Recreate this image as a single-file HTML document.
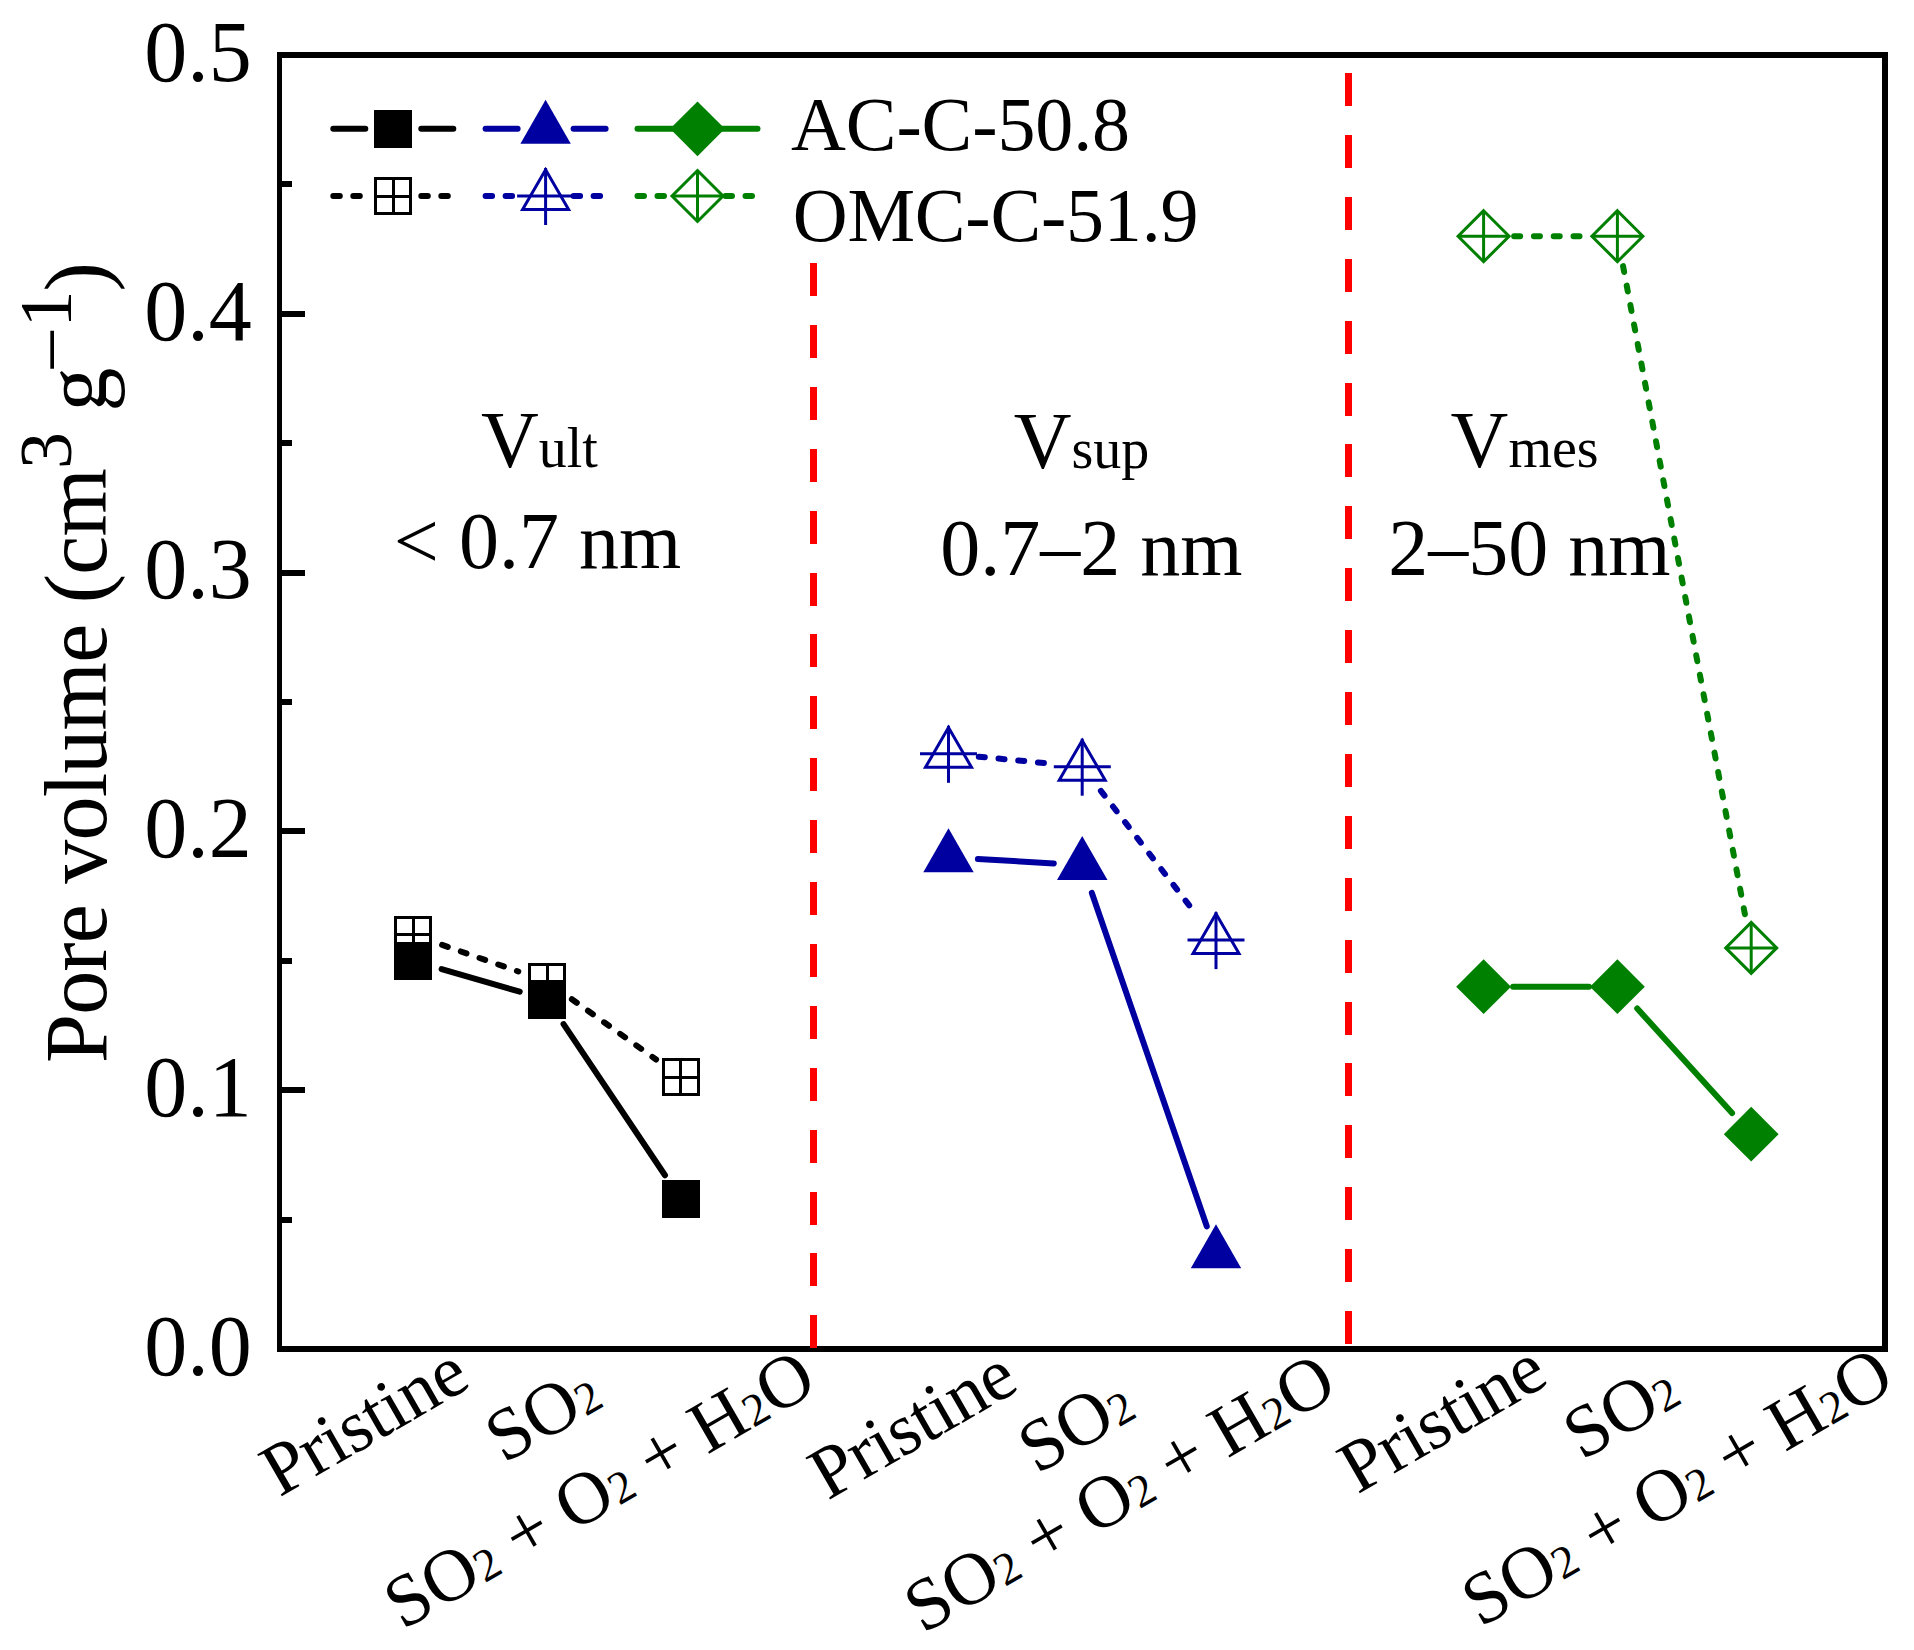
<!DOCTYPE html>
<html lang="en"><head><meta charset="utf-8"><title>Pore volume</title>
<style>html,body{margin:0;padding:0;background:#fff;}svg{display:block;}text{font-family:"Liberation Serif",serif;fill:#000;}</style>
</head><body>
<svg width="1914" height="1650" viewBox="0 0 1914 1650">
<rect x="0" y="0" width="1914" height="1650" fill="#fff"/>
<g fill="#000" shape-rendering="crispEdges">
<rect x="277" y="52" width="1611" height="6"/>
<rect x="277" y="1346" width="1611" height="6"/>
<rect x="277" y="52" width="5" height="1300"/>
<rect x="1882" y="52" width="6" height="1300"/>
<rect x="280" y="1216.6" width="12" height="6"/>
<rect x="280" y="1087.2" width="25" height="6"/>
<rect x="280" y="957.8" width="12" height="6"/>
<rect x="280" y="828.4" width="25" height="6"/>
<rect x="280" y="699.0" width="12" height="6"/>
<rect x="280" y="569.6" width="25" height="6"/>
<rect x="280" y="440.2" width="12" height="6"/>
<rect x="280" y="310.8" width="25" height="6"/>
<rect x="280" y="181.4" width="12" height="6"/>
</g>
<text x="144.3" y="1374.8" font-size="86">0.0</text>
<text x="144.3" y="1116.0" font-size="86">0.1</text>
<text x="144.3" y="857.2" font-size="86">0.2</text>
<text x="144.3" y="598.4" font-size="86">0.3</text>
<text x="144.3" y="339.6" font-size="86">0.4</text>
<text x="144.3" y="80.8" font-size="86">0.5</text>
<text transform="translate(106.4,1063) rotate(-90)" font-size="88" letter-spacing="-0.8">Pore volume (cm<tspan font-size="74" dy="-35.6">3</tspan><tspan dy="35.6"> g</tspan><tspan font-size="74" dy="-37.6 2" dx="0 4.5">–1</tspan><tspan dy="35.6">)</tspan></text>
<g stroke="#FF0000" stroke-width="7" fill="none" shape-rendering="crispEdges">
<line x1="813.5" y1="263" x2="813.5" y2="1349" stroke-dasharray="33 28.9"/>
<line x1="1348.5" y1="73" x2="1348.5" y2="1345" stroke-dasharray="33 28.9"/>
</g>
<text x="481" y="466.5" font-size="80">V<tspan font-size="56">ult</tspan></text>
<text x="1013.7" y="467.5" font-size="80">V<tspan font-size="56">sup</tspan></text>
<text x="1450.6" y="467" font-size="80">V<tspan font-size="56">mes</tspan></text>
<text x="393.8" y="568.3" font-size="80">&lt; 0.7 nm</text>
<text x="940.3" y="574.8" font-size="80">0.7<tspan dy="-2">–</tspan><tspan dy="2">2 nm</tspan></text>
<text x="1388.3" y="574.8" font-size="80">2<tspan dy="-2">–</tspan><tspan dy="2">50 nm</tspan></text>
<line x1="442.10" y1="944.95" x2="518.28" y2="971.47" stroke="#000" stroke-width="6" stroke-linecap="round" stroke-dasharray="6 13.8"/>
<line x1="571.89" y1="999.26" x2="656.07" y2="1059.51" stroke="#000" stroke-width="6" stroke-linecap="round" stroke-dasharray="6 13.8"/>
<line x1="441.62" y1="969.02" x2="519.71" y2="991.68" stroke="#000" stroke-width="6" stroke-linecap="round"/>
<line x1="563.53" y1="1024.11" x2="664.99" y2="1175.23" stroke="#000" stroke-width="6" stroke-linecap="round"/>
<g stroke="#000" stroke-width="3" fill="none" shape-rendering="crispEdges"><rect x="395.8" y="917.4" width="35" height="35"/><line x1="395.8" y1="934.9" x2="430.8" y2="934.9"/><line x1="413.3" y1="917.4" x2="413.3" y2="952.4"/></g>
<g stroke="#000" stroke-width="3" fill="none" shape-rendering="crispEdges"><rect x="529.6" y="964.0" width="35" height="35"/><line x1="529.6" y1="981.5" x2="564.6" y2="981.5"/><line x1="547.1" y1="964.0" x2="547.1" y2="999.0"/></g>
<g stroke="#000" stroke-width="3" fill="none" shape-rendering="crispEdges"><rect x="663.4" y="1059.8" width="35" height="35"/><line x1="663.4" y1="1077.3" x2="698.4" y2="1077.3"/><line x1="680.9" y1="1059.8" x2="680.9" y2="1094.8"/></g>
<rect x="394.3" y="941.8" width="38" height="38" fill="#000" shape-rendering="crispEdges"/>
<rect x="528.1" y="980.6" width="38" height="38" fill="#000" shape-rendering="crispEdges"/>
<rect x="661.9" y="1179.9" width="38" height="38" fill="#000" shape-rendering="crispEdges"/>
<line x1="978.82" y1="756.70" x2="1051.89" y2="763.76" stroke="#0000A0" stroke-width="6" stroke-linecap="round" stroke-dasharray="6 13.8"/>
<line x1="1100.88" y1="790.85" x2="1197.41" y2="915.95" stroke="#0000A0" stroke-width="6" stroke-linecap="round" stroke-dasharray="6 13.8"/>
<line x1="977.91" y1="858.99" x2="1053.80" y2="863.39" stroke="#0000A0" stroke-width="6" stroke-linecap="round"/>
<line x1="1091.86" y1="892.93" x2="1206.76" y2="1226.30" stroke="#0000A0" stroke-width="6" stroke-linecap="round"/>
<g stroke="#0000A0" stroke-width="3" fill="none"><polygon points="948.5,727.5 971.5,767.3 925.5,767.3" stroke-linejoin="miter"/><line x1="920.0" y1="753.8" x2="977.0" y2="753.8"/><line x1="948.5" y1="725.8" x2="948.5" y2="782.8"/></g>
<g stroke="#0000A0" stroke-width="3" fill="none"><polygon points="1082.2,740.4 1105.2,780.2 1059.2,780.2" stroke-linejoin="miter"/><line x1="1053.8" y1="766.7" x2="1110.8" y2="766.7"/><line x1="1082.2" y1="738.7" x2="1082.2" y2="795.7"/></g>
<g stroke="#0000A0" stroke-width="3" fill="none"><polygon points="1216.0,913.8 1239.0,953.6 1193.0,953.6" stroke-linejoin="miter"/><line x1="1187.5" y1="940.1" x2="1244.5" y2="940.1"/><line x1="1216.0" y1="912.1" x2="1216.0" y2="969.1"/></g>
<polygon points="948.5,828.3 973.7,872.3 923.3,872.3" fill="#0000A0"/>
<polygon points="1082.2,836.0 1107.5,880.0 1057.0,880.0" fill="#0000A0"/>
<polygon points="1216.0,1224.2 1241.2,1268.2 1190.8,1268.2" fill="#0000A0"/>
<line x1="1514.12" y1="236.16" x2="1586.92" y2="236.16" stroke="#008000" stroke-width="6" stroke-linecap="round" stroke-dasharray="6 13.8"/>
<line x1="1623.05" y1="266.13" x2="1745.57" y2="917.89" stroke="#008000" stroke-width="6" stroke-linecap="round" stroke-dasharray="6 13.8"/>
<line x1="1513.12" y1="986.68" x2="1588.92" y2="986.68" stroke="#008000" stroke-width="6" stroke-linecap="round"/>
<line x1="1637.24" y1="1008.53" x2="1732.06" y2="1113.09" stroke="#008000" stroke-width="6" stroke-linecap="round"/>
<g stroke="#008000" stroke-width="3" fill="none"><polygon points="1483.6,210.7 1509.1,236.2 1483.6,261.7 1458.1,236.2"/><line x1="1458.1" y1="236.2" x2="1509.1" y2="236.2"/><line x1="1483.6" y1="210.7" x2="1483.6" y2="261.7"/></g>
<g stroke="#008000" stroke-width="3" fill="none"><polygon points="1617.4,210.7 1642.9,236.2 1617.4,261.7 1591.9,236.2"/><line x1="1591.9" y1="236.2" x2="1642.9" y2="236.2"/><line x1="1617.4" y1="210.7" x2="1617.4" y2="261.7"/></g>
<g stroke="#008000" stroke-width="3" fill="none"><polygon points="1751.2,922.4 1776.7,947.9 1751.2,973.4 1725.7,947.9"/><line x1="1725.7" y1="947.9" x2="1776.7" y2="947.9"/><line x1="1751.2" y1="922.4" x2="1751.2" y2="973.4"/></g>
<polygon points="1483.6,959.3 1511.0,986.7 1483.6,1014.1 1456.2,986.7" fill="#008000"/>
<polygon points="1617.4,959.3 1644.8,986.7 1617.4,1014.1 1590.0,986.7" fill="#008000"/>
<polygon points="1751.2,1106.8 1778.6,1134.2 1751.2,1161.6 1723.8,1134.2" fill="#008000"/>
<line x1="333.3" y1="128.8" x2="365.3" y2="128.8" stroke="#000" stroke-width="6" stroke-linecap="round"/>
<line x1="421.3" y1="128.8" x2="453.3" y2="128.8" stroke="#000" stroke-width="6" stroke-linecap="round"/>
<line x1="333.3" y1="196.0" x2="367.3" y2="196.0" stroke="#000" stroke-width="6" stroke-linecap="round" stroke-dasharray="6.5 13.5"/>
<line x1="421.3" y1="196.0" x2="455.3" y2="196.0" stroke="#000" stroke-width="6" stroke-linecap="round" stroke-dasharray="6.5 13.5"/>
<line x1="485.6" y1="128.8" x2="517.6" y2="128.8" stroke="#0000A0" stroke-width="6" stroke-linecap="round"/>
<line x1="573.6" y1="128.8" x2="605.6" y2="128.8" stroke="#0000A0" stroke-width="6" stroke-linecap="round"/>
<line x1="485.6" y1="196.0" x2="519.6" y2="196.0" stroke="#0000A0" stroke-width="6" stroke-linecap="round" stroke-dasharray="6.5 13.5"/>
<line x1="573.6" y1="196.0" x2="607.6" y2="196.0" stroke="#0000A0" stroke-width="6" stroke-linecap="round" stroke-dasharray="6.5 13.5"/>
<line x1="637.5" y1="128.8" x2="757.5" y2="128.8" stroke="#008000" stroke-width="6" stroke-linecap="round"/>
<line x1="637.5" y1="196.0" x2="671.5" y2="196.0" stroke="#008000" stroke-width="6" stroke-linecap="round" stroke-dasharray="6.5 13.5"/>
<line x1="725.5" y1="196.0" x2="759.5" y2="196.0" stroke="#008000" stroke-width="6" stroke-linecap="round" stroke-dasharray="6.5 13.5"/>
<rect x="374.3" y="109.8" width="38" height="38" fill="#000" shape-rendering="crispEdges"/>
<polygon points="545.6,99.8 570.8,143.8 520.4,143.8" fill="#0000A0"/>
<polygon points="697.5,101.4 724.9,128.8 697.5,156.2 670.1,128.8" fill="#008000"/>
<g stroke="#000" stroke-width="3" fill="none" shape-rendering="crispEdges"><rect x="375.8" y="178.5" width="35" height="35"/><line x1="375.8" y1="196.0" x2="410.8" y2="196.0"/><line x1="393.3" y1="178.5" x2="393.3" y2="213.5"/></g>
<g stroke="#0000A0" stroke-width="3" fill="none"><polygon points="545.6,169.7 568.6,209.5 522.6,209.5" stroke-linejoin="miter"/><line x1="517.1" y1="196.0" x2="574.1" y2="196.0"/><line x1="545.6" y1="168.0" x2="545.6" y2="225.0"/></g>
<g stroke="#008000" stroke-width="3" fill="none"><polygon points="697.5,170.5 723.0,196.0 697.5,221.5 672.0,196.0"/><line x1="672.0" y1="196.0" x2="723.0" y2="196.0"/><line x1="697.5" y1="170.5" x2="697.5" y2="221.5"/></g>
<text x="791" y="149.8" font-size="76" letter-spacing="-0.1">AC-C-50.8</text>
<text x="792.8" y="241.1" font-size="76" letter-spacing="-0.2">OMC-C-51.9</text>
<text transform="translate(279.5,1497.5) rotate(-30)" font-size="74" letter-spacing="-0.4">Pristine</text>
<text transform="translate(827.8,1500.7) rotate(-30)" font-size="74" letter-spacing="-0.4">Pristine</text>
<text transform="translate(1357.6,1494.6) rotate(-30)" font-size="74" letter-spacing="-0.4">Pristine</text>
<text transform="translate(503.9,1464.0) rotate(-30)" font-size="74" letter-spacing="0">SO<tspan font-size="46">2</tspan></text>
<text transform="translate(1036.9,1474.7) rotate(-30)" font-size="74" letter-spacing="0">SO<tspan font-size="46">2</tspan></text>
<text transform="translate(1581.9,1460.9) rotate(-30)" font-size="74" letter-spacing="0">SO<tspan font-size="46">2</tspan></text>
<text transform="translate(402.8,1630.6) rotate(-30)" font-size="74" letter-spacing="0">SO<tspan font-size="46">2</tspan> + O<tspan font-size="46">2</tspan> + H<tspan font-size="46">2</tspan>O</text>
<text transform="translate(923.1,1634.2) rotate(-30)" font-size="74" letter-spacing="0">SO<tspan font-size="46">2</tspan> + O<tspan font-size="46">2</tspan> + H<tspan font-size="46">2</tspan>O</text>
<text transform="translate(1480.6,1627.9) rotate(-30)" font-size="74" letter-spacing="0">SO<tspan font-size="46">2</tspan> + O<tspan font-size="46">2</tspan> + H<tspan font-size="46">2</tspan>O</text>
</svg></body></html>
